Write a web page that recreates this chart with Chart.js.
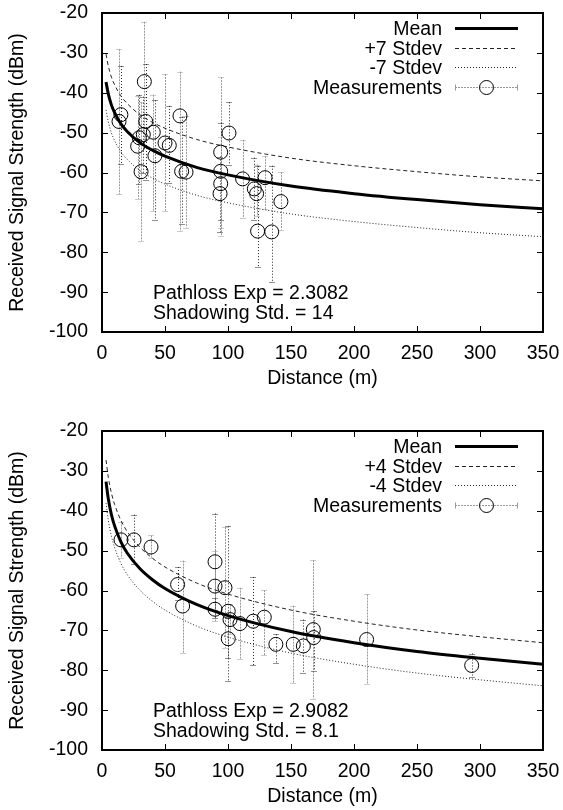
<!DOCTYPE html>
<html>
<head>
<meta charset="utf-8">
<script src="https://cdn.jsdelivr.net/npm/chart.js@4"></script>
<style>
  html, body { margin: 0; padding: 0; background: #fff; overflow: hidden; }
  .plot { position: absolute; left: 0; width: 563px; height: 418px; }
</style>
</head>
<body>
<div class="plot" style="top:0"><canvas id="topChart" width="563" height="418"></canvas></div>
<div class="plot" style="top:418px"><canvas id="bottomChart" width="563" height="418"></canvas></div>
<script>
const curveX = [3.2, 5, 7.5, 10, 15, 20, 30, 40, 50, 75, 100, 150, 200, 250, 300, 350];

// upper plot
const meanTop  = [-37.3, -40.3, -43.1, -45.0, -47.8, -49.7, -52.5, -54.4, -55.9, -58.7, -60.6, -63.4, -65.3, -66.8, -68.1, -69.1];
const upperTop = [-30.3, -33.3, -36.1, -38.0, -40.8, -42.7, -45.5, -47.4, -48.9, -51.7, -53.6, -56.4, -58.3, -59.8, -61.1, -62.1];
const lowerTop = [-44.3, -47.3, -50.1, -52.0, -54.8, -56.7, -59.5, -61.4, -62.9, -65.7, -67.6, -70.4, -72.3, -73.8, -75.1, -76.1];
const distTop = [13.5, 15, 28.3, 29.6, 31, 32.8, 33.6, 34.7, 40.7, 42, 50, 53.4, 61.9, 63.2, 66.7,
                 93.7, 94.2, 94.2, 94.2, 100.8, 111.6, 120.9, 122.7, 123.5, 129.4, 134.7, 142];
const rssTop  = [-47.2, -45.5, -53.4, -51.3, -59.8, -50.5, -37.2, -47.2, -49.9, -55.8, -52.6, -53.2, -45.8, -59.7, -59.9,
                 -65.3, -54.9, -59.7, -62.8, -50.1, -61.6, -64.1, -65.3, -74.7, -61.3, -74.9, -67.3];
const lowTop  = [-65.5, -57.8, -66.6, -63.0, -77.2, -60.0, -52.0, -62.0, -69.7, -71.8, -69.6, -62.6, -74.7, -73.0, -73.8,
                 -75.0, -75.8, -72.0, -74.0, -58.0, -71.3, -72.0, -71.0, -83.8, -69.1, -87.4, -74.3];
const highTop = [-29.1, -33.3, -40.8, -40.5, -42.4, -41.0, -22.2, -32.8, -40.5, -41.9, -35.3, -43.3, -34.7, -46.0, -45.8,
                 -56.0, -36.1, -47.5, -51.0, -42.4, -51.8, -56.3, -58.0, -58.4, -55.9, -58.3, -59.9];
const labelsTop = ['Mean', '+7 Stdev', '-7 Stdev', 'Measurements'];
const notesTop = ['Pathloss Exp = 2.3082', 'Shadowing Std. = 14'];

// lower plot
const meanBot  = [-32.7, -37.0, -41.0, -43.8, -47.8, -50.6, -54.5, -57.3, -59.5, -63.5, -66.3, -70.3, -73.1, -75.3, -77.0, -78.5];
const upperBot = [-27.3, -31.6, -35.6, -38.4, -42.4, -45.2, -49.1, -51.9, -54.1, -58.1, -60.9, -64.9, -67.7, -69.9, -71.6, -73.1];
const lowerBot = [-38.1, -42.4, -46.4, -49.2, -53.2, -56.0, -59.9, -62.7, -64.9, -68.9, -71.7, -75.7, -78.5, -80.7, -82.4, -83.9];
const distBot = [15.1, 25.4, 38.9, 60, 64, 89.7, 89.7, 89.7, 97.6, 100.2, 101.6, 100.2, 109.5, 120, 128.8,
                 138, 151.8, 159.8, 167.7, 168, 210, 293.4];
const rssBot  = [-47.3, -47.3, -49.1, -58.5, -63.9, -52.8, -58.9, -64.7, -59.3, -65.2, -67.3, -72.1, -68.3, -67.7, -66.7,
                 -73.5, -73.5, -73.9, -69.8, -71.8, -72.3, -78.8];
const lowBot  = [-51.8, -53.3, -51.8, -62.5, -75.7, -65.0, -67.7, -67.0, -74.4, -82.7, -71.0, -77.0, -77.3, -78.8, -76.3,
                 -78.3, -83.1, -80.6, -87.1, -80.2, -83.5, -81.8];
const highBot = [-42.7, -41.0, -46.2, -54.1, -52.5, -40.7, -50.0, -62.0, -44.1, -43.9, -63.5, -67.0, -59.3, -56.6, -59.9,
                 -71.0, -63.8, -67.3, -52.4, -65.2, -61.0, -75.8];
const labelsBot = ['Mean', '+4 Stdev', '-4 Stdev', 'Measurements'];
const notesBot = ['Pathloss Exp = 2.9082', 'Shadowing Std. = 8.1'];

const xTicks = { min: 0, max: 350, step: 50 };
const yTicks = { min: -100, max: -20, step: 10 };

const FAMILY = '"Liberation Sans", Arial, Helvetica, sans-serif';
const FSIZE = 19.5;
const FONT = FSIZE + 'px ' + FAMILY;
Chart.defaults.font.family = FAMILY;
Chart.defaults.font.size = FSIZE;
Chart.defaults.color = '#000';

function xy(xs, ys) {
  return xs.map((x, i) => ({ x: x, y: ys[i] }));
}

function seg(ctx, x0, y0, x1, y1) {
  ctx.beginPath();
  ctx.moveTo(x0, y0);
  ctx.lineTo(x1, y1);
  ctx.stroke();
}

// vertical error bars of the measurement set
const errorBars = {
  id: 'errorBars',
  beforeDatasetsDraw(chart) {
    const ds = chart.data.datasets[3];
    const meta = chart.getDatasetMeta(3);
    const { ctx, chartArea: a, scales: { y } } = chart;
    ctx.save();
    ctx.beginPath();
    ctx.rect(a.left, a.top, a.width, a.height);
    ctx.clip();
    ctx.lineWidth = 1;
    meta.data.forEach((pt, i) => {
      const px = Math.round(pt.x) + 0.5;
      const top = y.getPixelForValue(ds.yHigh[i]);
      const bot = y.getPixelForValue(ds.yLow[i]);
      if (i % 2) {
        ctx.strokeStyle = '#222';
        ctx.setLineDash([1, 2]);
      } else {
        ctx.strokeStyle = '#999';
        ctx.setLineDash([2, 1]);
      }
      seg(ctx, px, top, px, bot);
      ctx.setLineDash([1, 1]);
      seg(ctx, px - 3, Math.round(top) + 0.5, px + 3, Math.round(top) + 0.5);
      seg(ctx, px - 3, Math.round(bot) + 0.5, px + 3, Math.round(bot) + 0.5);
    });
    ctx.restore();
  }
};

// closed frame with inward ticks on all four sides
const frame = {
  id: 'frame',
  afterDatasetsDraw(chart) {
    const { ctx, chartArea: a, scales: { x, y } } = chart;
    ctx.save();
    ctx.strokeStyle = '#000';
    ctx.lineWidth = 1;
    x.ticks.forEach((t, i) => {
      const p = Math.round(x.getPixelForTick(i)) + 0.5;
      seg(ctx, p, a.bottom, p, a.bottom - 6);
      seg(ctx, p, a.top, p, a.top + 6);
    });
    y.ticks.forEach((t, i) => {
      const p = Math.round(y.getPixelForTick(i)) + 0.5;
      seg(ctx, a.left, p, a.left + 6, p);
      seg(ctx, a.right, p, a.right - 6, p);
    });
    ctx.lineWidth = 2;
    ctx.strokeRect(a.left, a.top, a.width, a.height);
    ctx.restore();
  }
};

// gnuplot style key in the upper right corner
const keyBox = {
  id: 'keyBox',
  afterDraw(chart) {
    const { ctx, chartArea: a } = chart;
    const textRight = a.right - 101;
    const x0 = a.right - 88, x1 = a.right - 25;
    ctx.save();
    ctx.font = FONT;
    ctx.textAlign = 'right';
    ctx.textBaseline = 'middle';
    ctx.fillStyle = '#000';
    chart.data.datasets.forEach((ds, i) => {
      const yy = Math.round(a.top + 15 + i * 19.7) + 0.5;
      ctx.fillText(ds.label, textRight, yy + 1);
      if (ds.showLine) {
        ctx.strokeStyle = ds.borderColor;
        ctx.lineWidth = ds.borderWidth;
        ctx.setLineDash(ds.borderDash || []);
        seg(ctx, x0, yy, x1, yy);
      } else {
        ctx.strokeStyle = '#999';
        ctx.lineWidth = 1;
        ctx.setLineDash([2, 1]);
        seg(ctx, x0, yy, x1, yy);
        ctx.setLineDash([]);
        seg(ctx, x0 + 0.5, yy - 3, x0 + 0.5, yy + 3);
        seg(ctx, x1 - 0.5, yy - 3, x1 - 0.5, yy + 3);
        ctx.strokeStyle = '#000';
        ctx.beginPath();
        ctx.arc((x0 + x1) / 2, yy, ds.pointRadius, 0, Math.PI * 2);
        ctx.stroke();
      }
    });
    ctx.restore();
  }
};

// the two lines of fit results
const notes = {
  id: 'notes',
  afterDraw(chart, args, opts) {
    const { ctx, chartArea: a } = chart;
    ctx.save();
    ctx.font = FONT;
    ctx.fillStyle = '#000';
    ctx.textAlign = 'left';
    ctx.textBaseline = 'alphabetic';
    opts.lines.forEach((t, i) => ctx.fillText(t, a.left + 51, a.top + 286 + i * 20));
    ctx.restore();
  }
};

function makeChart(id, mean, upper, lower, dist, rss, low, high, labels, lines) {
  const ctx = document.getElementById(id).getContext('2d');
  return new Chart(ctx, {
    type: 'scatter',
    data: {
      datasets: [
        {
          label: labels[0],
          data: xy(curveX, mean),
          showLine: true,
          borderColor: '#000',
          borderWidth: 3,
          pointRadius: 0,
          cubicInterpolationMode: 'monotone'
        },
        {
          label: labels[1],
          data: xy(curveX, upper),
          showLine: true,
          borderColor: '#222',
          borderWidth: 1,
          borderDash: [4, 3],
          pointRadius: 0,
          cubicInterpolationMode: 'monotone'
        },
        {
          label: labels[2],
          data: xy(curveX, lower),
          showLine: true,
          borderColor: '#222',
          borderWidth: 1,
          borderDash: [1, 2],
          pointRadius: 0,
          cubicInterpolationMode: 'monotone'
        },
        {
          label: labels[3],
          data: xy(dist, rss),
          yLow: low,
          yHigh: high,
          showLine: false,
          pointRadius: 7,
          pointBorderWidth: 1,
          pointBorderColor: '#000',
          pointBackgroundColor: 'rgba(0,0,0,0)'
        }
      ]
    },
    options: {
      responsive: false,
      animation: false,
      events: [],
      layout: { padding: { left: 0, right: 20, top: 13, bottom: 0 } },
      plugins: {
        legend: { display: false },
        tooltip: { enabled: false },
        notes: { lines: lines }
      },
      scales: {
        x: {
          type: 'linear',
          min: xTicks.min,
          max: xTicks.max,
          ticks: { stepSize: xTicks.step, padding: 10, maxRotation: 0, color: '#000' },
          grid: { display: false, drawTicks: false },
          border: { display: false },
          title: { display: true, text: 'Distance (m)', color: '#000', padding: { top: 0, bottom: 28 } },
          afterFit: s => { s.height = 86; s.paddingLeft = 0; s.paddingRight = 0; }
        },
        y: {
          type: 'linear',
          min: yTicks.min,
          max: yTicks.max,
          ticks: { stepSize: yTicks.step, padding: 14, color: '#000' },
          grid: { display: false, drawTicks: false },
          border: { display: false },
          title: { display: true, text: 'Received Signal Strength (dBm)', color: '#000', padding: { top: 6, bottom: 0 } },
          afterFit: s => { s.width = 102; s.paddingTop = 0; s.paddingBottom = 0; }
        }
      }
    },
    plugins: [errorBars, frame, keyBox, notes]
  });
}

makeChart('topChart', meanTop, upperTop, lowerTop, distTop, rssTop, lowTop, highTop, labelsTop, notesTop);
makeChart('bottomChart', meanBot, upperBot, lowerBot, distBot, rssBot, lowBot, highBot, labelsBot, notesBot);
</script>
</body>
</html>
